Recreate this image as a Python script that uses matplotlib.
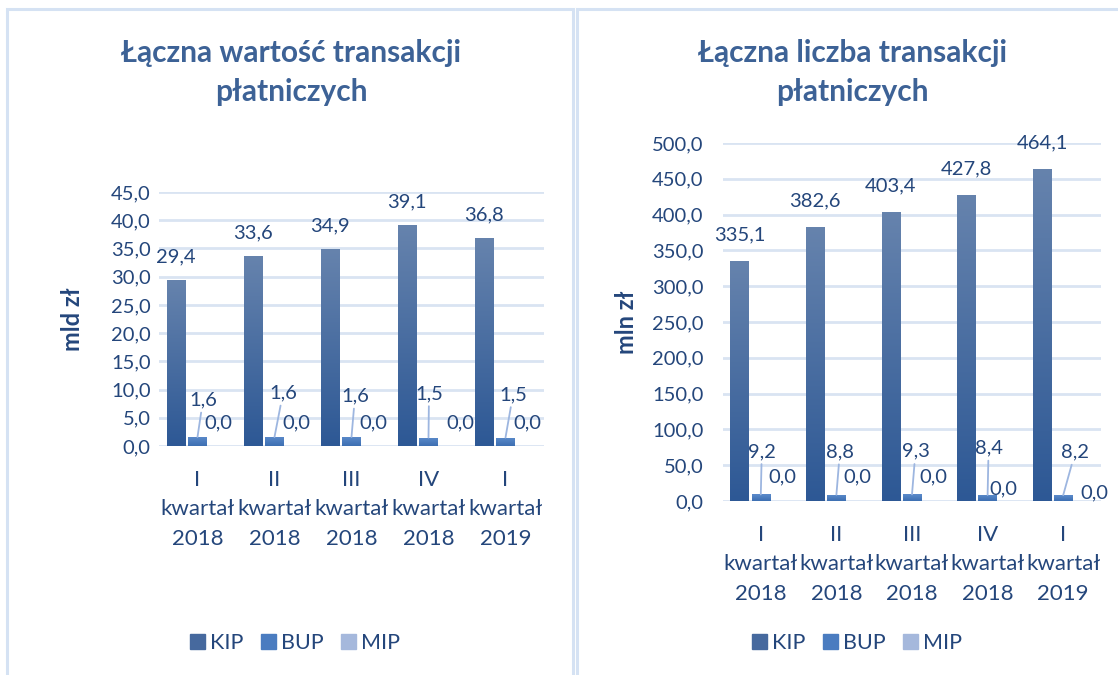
import numpy as np
import matplotlib
matplotlib.use("Agg")
import matplotlib.pyplot as plt
from matplotlib.patches import Rectangle
from matplotlib.colors import LinearSegmentedColormap

plt.rcParams['font.family'] = ['Lato', 'DejaVu Sans']

# ---------------- data ----------------
categories = ["I\nkwartał\n2018", "II\nkwartał\n2018", "III\nkwartał\n2018",
              "IV\nkwartał\n2018", "I\nkwartał\n2019"]
series_names = ["KIP", "BUP", "MIP"]

value_kip = [29.4, 33.6, 34.9, 39.1, 36.8]
value_bup = [1.6, 1.6, 1.6, 1.5, 1.5]
value_mip = [0.0, 0.0, 0.0, 0.0, 0.0]

count_kip = [335.1, 382.6, 403.4, 427.8, 464.1]
count_bup = [9.2, 8.8, 9.3, 8.4, 8.2]
count_mip = [0.0, 0.0, 0.0, 0.0, 0.0]

title_left = "Łączna wartość transakcji\npłatniczych"
title_right = "Łączna liczba transakcji\npłatniczych"
ylabel_left = "mld zł"
ylabel_right = "mln zł"

# ---------------- styling ----------------
W, H = 1118, 675
TXT = '#24467B'
TITLE = '#3D6296'
GRID = '#D9E4F2'
KIP_TOP, KIP_BOT = '#6683AD', '#2D5895'
BUP_TOP, BUP_BOT = '#5C8BCB', '#3D6FB2'
MIP_TOP, MIP_BOT = '#B7C8E6', '#8FA6D2'
LEADER = '#9DB6E0'
FS = 14.5
FSX = 16

def fmt(v):
    return f"{v:.1f}".replace('.', ',')

def px_axes(x0, ytop, x1, ybot):
    return [x0 / W, 1 - ybot / H, (x1 - x0) / W, (ybot - ytop) / H]

fig = plt.figure(figsize=(W / 100, H / 100), dpi=100)

# panel frames
fig.patches.append(Rectangle((7 / W, -0.05), (573 - 7) / W, 1.05 - 9 / H,
                             transform=fig.transFigure, fill=False,
                             edgecolor='#D5E2F3', linewidth=2.2))
fig.patches.append(Rectangle((577 / W, -0.05), (1125 - 577) / W, 1.05 - 9 / H,
                             transform=fig.transFigure, fill=False,
                             edgecolor='#D5E2F3', linewidth=2.2))

def grad_fill(ax, bars, ctop, cbot):
    cmap = LinearSegmentedColormap.from_list('g', [cbot, ctop])
    grad = np.linspace(0, 1, 256).reshape(-1, 1)
    for b in bars:
        h = b.get_height()
        if h <= 0:
            continue
        x, w = b.get_x(), b.get_width()
        im = ax.imshow(grad, extent=[x, x + w, 0, h], origin='lower', cmap=cmap,
                       aspect='auto', zorder=3, interpolation='bilinear')
        im.set_clip_path(b)

def draw_panel(ax, kip, bup, mip, ymax, ystep, ylabel, ytickpad, kip_off,
               bup_off, mip_off):
    x = np.arange(len(categories))
    off, w = 0.28, 0.245
    b1 = ax.bar(x - off, kip, w, color=KIP_BOT, zorder=2, linewidth=0)
    b2 = ax.bar(x, bup, w, color=BUP_BOT, zorder=2, linewidth=0)
    b3 = ax.bar(x + off, mip, w, color=MIP_BOT, zorder=2, linewidth=0)
    grad_fill(ax, b1, KIP_TOP, KIP_BOT)
    grad_fill(ax, b2, BUP_TOP, BUP_BOT)
    grad_fill(ax, b3, MIP_TOP, MIP_BOT)
    ax.set_xlim(-0.5, len(categories) - 0.5)
    ax.set_ylim(0, ymax)
    ticks = np.arange(0, ymax + ystep / 2, ystep)
    ax.set_yticks(ticks)
    ax.set_yticklabels([fmt(v) for v in ticks])
    ax.set_xticks(x)
    ax.set_xticklabels(categories, linespacing=1.6, fontsize=FSX)
    ax.tick_params(axis='both', length=0, labelcolor=TXT)
    ax.tick_params(axis='y', pad=ytickpad, labelsize=FS)
    ax.tick_params(axis='x', pad=17)
    for s in ax.spines.values():
        s.set_visible(False)
    ax.grid(axis='y', color=GRID, linewidth=2.0, zorder=0)
    ax.set_axisbelow(True)
    ax.set_ylabel(ylabel, fontsize=17, fontweight='bold', color=TXT)
    for i, v in enumerate(kip):
        ax.annotate(fmt(v), (x[i] - off, v), xytext=(0, kip_off * 0.72),
                    textcoords='offset points', ha='center', va='center',
                    fontsize=FS, color=TXT, zorder=5)
    for i, v in enumerate(bup):
        dx, dy = bup_off[i]
        ax.annotate(fmt(v), (x[i], v), xytext=(dx * 0.72, dy * 0.72),
                    textcoords='offset points', ha='center', va='center',
                    fontsize=FS, color=TXT, zorder=5,
                    arrowprops=dict(arrowstyle='-', color=LEADER, lw=1.3,
                                    shrinkA=1, shrinkB=0))
    for i, v in enumerate(mip):
        dx, dy = mip_off[i]
        ax.annotate(fmt(v), (x[i] + off, v), xytext=(dx * 0.72, dy * 0.72),
                    textcoords='offset points', ha='center', va='center',
                    fontsize=FS, color=TXT, zorder=5)
    return b1, b2, b3

# label offsets (pixels: dx right, dy up)
left_bup_off = [(5.5, 37), (8.5, 44), (3.5, 41), (0.5, 44), (7.5, 43)]
left_mip_off = [(-1, 23), (0, 23), (0, 23), (10, 23), (0, 23)]
right_bup_off = [(1, 43), (3.5, 43), (3.5, 43), (1, 47), (12, 43)]
right_mip_off = [(0, 24), (0, 24), (0, 24), (-5, 12), (10, 8)]

axL = fig.add_axes(px_axes(159, 192, 544, 446))
draw_panel(axL, value_kip, value_bup, value_mip, 45, 5, ylabel_left, 6,
           23, left_bup_off, left_mip_off)
axL.yaxis.set_label_coords(-0.195, 0.5)

axR = fig.add_axes(px_axes(723, 143, 1101, 501))
draw_panel(axR, count_kip, count_bup, count_mip, 500, 50, ylabel_right, 14,
           26, right_bup_off, right_mip_off)
axR.yaxis.set_label_coords(-0.225, 0.5)

fig.text(291 / W, 1 - 72.5 / H, title_left, ha='center', va='center',
         fontsize=21.5, fontweight='bold', color=TITLE, linespacing=1.5)
fig.text(852 / W, 1 - 72.5 / H, title_right, ha='center', va='center',
         fontsize=21.5, fontweight='bold', color=TITLE, linespacing=1.5)

leg_handles = [Rectangle((0, 0), 1, 1, color=c) for c in ('#46699E', '#4A7CC0', '#A5B8DC')]
for cx in (295, 857):
    fig.legend(leg_handles, series_names, loc='center', bbox_to_anchor=(cx / W, 1 - 643 / H),
               ncol=3, frameon=False, fontsize=15.5, labelcolor=TXT,
               handlelength=0.7, handleheight=0.7, handletextpad=0.25,
               columnspacing=0.8)

fig.savefig('out.png', dpi=100)
